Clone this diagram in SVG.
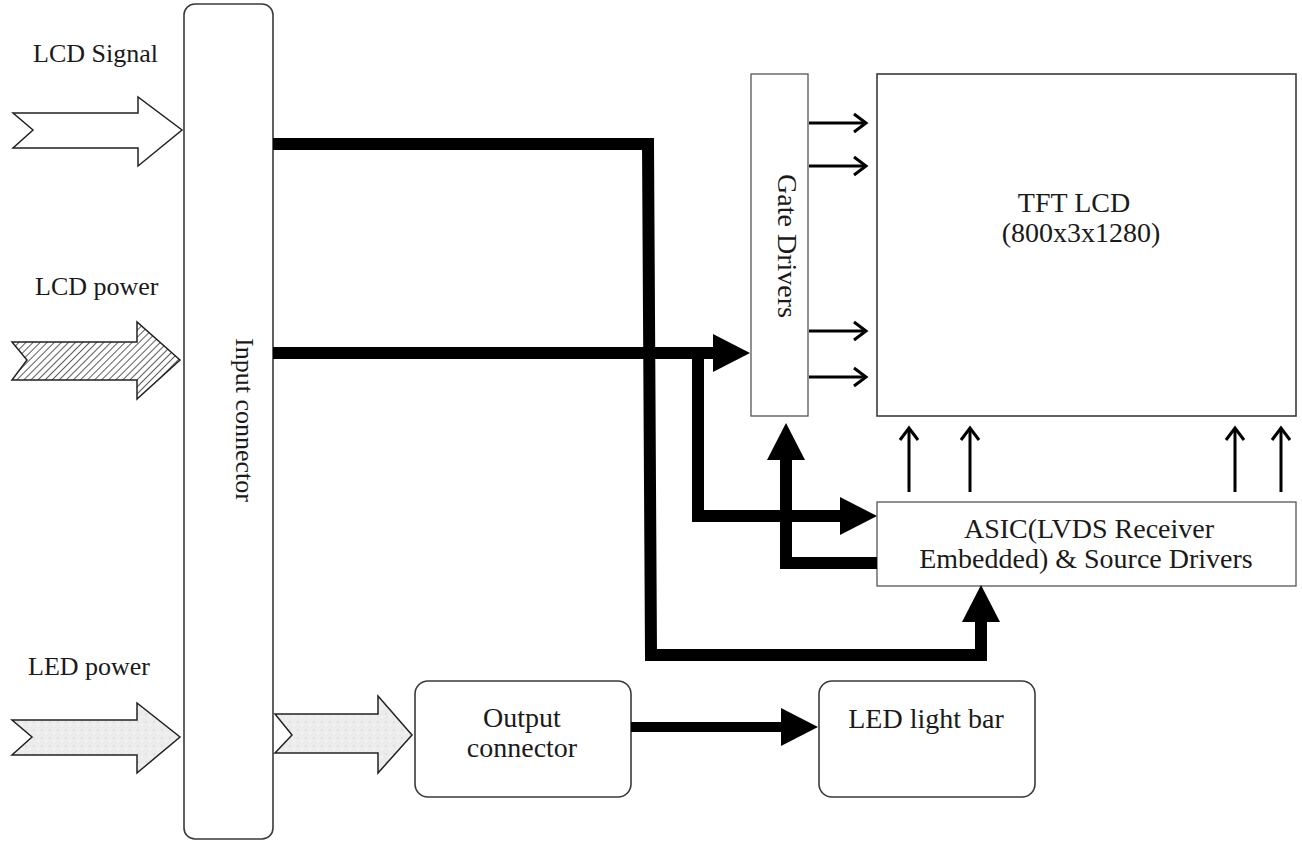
<svg xmlns="http://www.w3.org/2000/svg" width="1302" height="845" viewBox="0 0 1302 845">
<style>
text{font-family:"Liberation Serif","Tinos","DejaVu Serif","Times New Roman",Times,serif;fill:#1a1a1a}
.lbl{font-size:26px}
.big{font-size:28px}
.box{fill:#fff;stroke:#3a3a3a;stroke-width:1.6}
.thin{fill:#fff;stroke:#555;stroke-width:1.3}
.thick{fill:none;stroke:#000;stroke-width:12;stroke-linejoin:miter}
.small{fill:none;stroke:#000;stroke-width:3}
.fat{stroke:#222;stroke-width:1.5;stroke-linejoin:miter}
</style>
<defs>
<marker id="bigHead" markerUnits="userSpaceOnUse" markerWidth="40" markerHeight="40" refX="0" refY="19" orient="auto" overflow="visible">
<path d="M0,0 L37,19 L0,38 Z" fill="#000"/>
</marker>
<marker id="openHead" markerUnits="userSpaceOnUse" markerWidth="20" markerHeight="24" refX="14" refY="10" orient="auto" overflow="visible">
<path d="M2,1 L14,10 L2,19" fill="none" stroke="#000" stroke-width="3"/>
</marker>
<pattern id="hatch" patternUnits="userSpaceOnUse" width="5" height="5" patternTransform="rotate(45)">
<rect width="5" height="5" fill="#fff"/>
<line x1="0" y1="0" x2="0" y2="5" stroke="#333" stroke-width="1.6"/>
</pattern>
<pattern id="speckle" patternUnits="userSpaceOnUse" width="8" height="8">
<rect width="8" height="8" fill="#ececec"/>
<circle cx="2" cy="2" r="1" fill="#dcdcdc"/>
<circle cx="6" cy="5" r="1" fill="#f7f7f7"/>
</pattern>
</defs>

<g id="input-labels">
<text class="lbl" x="33" y="62">LCD Signal</text>
<text class="lbl" x="35" y="295">LCD power</text>
<text class="lbl" x="28" y="675">LED power</text>
</g>

<g id="lcd-signal-arrow">
<polygon class="fat" fill="#fff" points="13,113 138,113 138,97 182,130 138,166 138,148 13,148 33,130"/>
</g>
<g id="lcd-power-arrow">
<polygon class="fat" fill="url(#hatch)" points="12,342 137,342 137,322 180,360 137,399 137,380 12,380 27,360"/>
</g>
<g id="led-power-arrow">
<polygon class="fat" fill="url(#speckle)" points="12,720 137,720 137,703 180,737 137,773 137,755 12,755 32,737"/>
</g>

<g id="input-connector">
<rect class="box" x="184" y="4" width="89" height="835" rx="11"/>
<text class="lbl" transform="translate(236,420) rotate(90)" text-anchor="middle">Input connector</text>
</g>

<g id="led-power-out-arrow">
<polygon class="fat" fill="url(#speckle)" points="275,714 378,714 378,696 412,735 378,773 378,753 275,753 292,735"/>
</g>

<g id="gate-drivers">
<rect class="thin" x="751" y="74" width="57" height="342"/>
<text class="big" transform="translate(778,246) rotate(90)" text-anchor="middle">Gate Drivers</text>
</g>

<g id="tft-lcd">
<rect class="box" x="877" y="74" width="419" height="342"/>
<text class="big" x="1074" y="212" text-anchor="middle">TFT LCD</text>
<text class="big" x="1081" y="242" text-anchor="middle">(800x3x1280)</text>
</g>

<g id="asic">
<rect class="thin" x="877" y="502" width="419" height="84"/>
<text class="big" x="1089" y="538" text-anchor="middle">ASIC(LVDS Receiver</text>
<text class="big" x="1086" y="568" text-anchor="middle">Embedded) &amp; Source Drivers</text>
</g>

<g id="output-connector">
<rect class="box" x="415" y="681" width="216" height="116" rx="13"/>
<text class="big" x="522" y="727" text-anchor="middle">Output</text>
<text class="big" x="522" y="757" text-anchor="middle">connector</text>
</g>

<g id="led-light-bar">
<rect class="box" x="819" y="681" width="216" height="116" rx="13"/>
<text class="big" x="926" y="728" text-anchor="middle">LED light bar</text>
</g>

<g id="connectors">
<path class="thick" d="M273,144 L648,144 L651,655 L981,655 L981,622" marker-end="url(#bigHead)"/>
<path class="thick" d="M273,353 L713,353" marker-end="url(#bigHead)"/>
<path class="thick" d="M698,353 L698,516 L840,516" marker-end="url(#bigHead)"/>
<path class="thick" d="M877,563 L786,563 L786,460" marker-end="url(#bigHead)"/>
<path class="thick" style="stroke-width:10" d="M631,727 L781,727" marker-end="url(#bigHead)"/>
<path class="small" d="M809,123 L866,123" marker-end="url(#openHead)"/>
<path class="small" d="M809,166 L866,166" marker-end="url(#openHead)"/>
<path class="small" d="M809,331 L866,331" marker-end="url(#openHead)"/>
<path class="small" d="M809,377 L866,377" marker-end="url(#openHead)"/>
<path class="small" d="M909,492 L909,428" marker-end="url(#openHead)"/>
<path class="small" d="M970,492 L970,428" marker-end="url(#openHead)"/>
<path class="small" d="M1235,492 L1235,428" marker-end="url(#openHead)"/>
<path class="small" d="M1281,492 L1281,428" marker-end="url(#openHead)"/>
</g>
</svg>
